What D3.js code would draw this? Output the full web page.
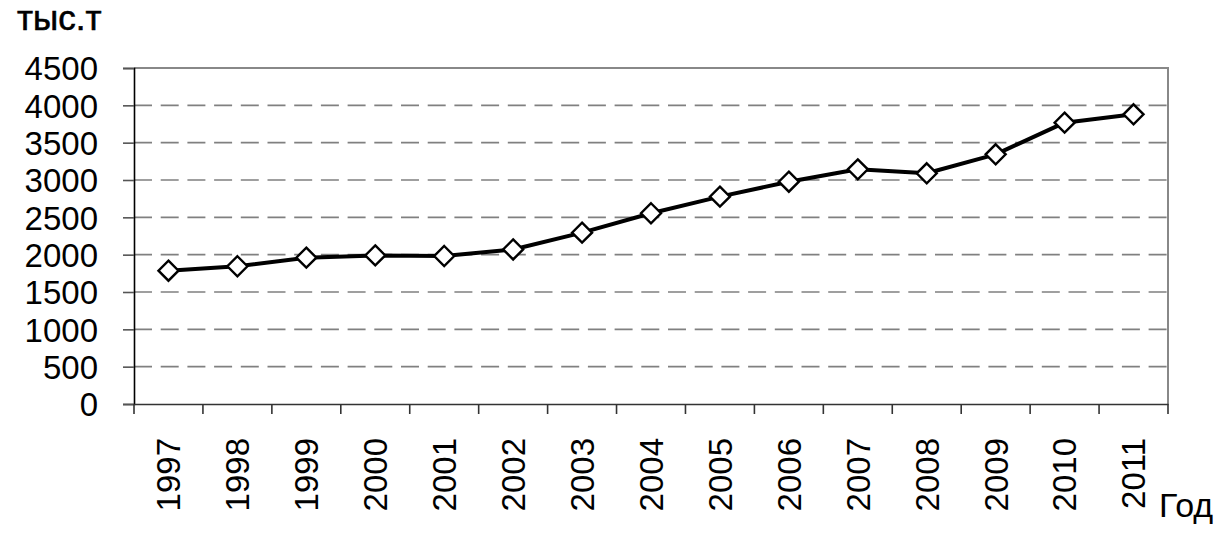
<!DOCTYPE html>
<html><head><meta charset="utf-8">
<script src="https://cdn.jsdelivr.net/npm/d3@7"></script>
<style>body{margin:0;background:#fff}svg{display:block}text{font-family:"Liberation Sans",Arial,sans-serif;fill:#000}</style>
</head><body><svg id="c" width="1229" height="534"></svg>
<script>
const years = ["1997","1998","1999","2000","2001","2002","2003","2004","2005","2006","2007","2008","2009","2010","2011"];
const values = [1785,1845,1960,1990,1982,2070,2295,2555,2777,2977,3143,3090,3344,3768,3880];
const yTicks = [0,500,1000,1500,2000,2500,3000,3500,4000,4500];
const yUnit = "тыс.т";
const xUnit = "Год";

const svg = d3.select("#c");
const L = 134, R = 1168, T = 68, B = 404;
const x = d3.scaleBand().domain(years).range([L, R]);
const y = d3.scaleLinear().domain([0, 4500]).range([B, T]);

// gridlines
svg.append("g").selectAll("line").data(yTicks.filter(d => d > 0 && d < 4500)).join("line")
  .attr("x1", L).attr("x2", R).attr("y1", d => y(d)).attr("y2", d => y(d))
  .attr("stroke", "#808080").attr("stroke-width", 1.6).attr("stroke-dasharray", "18,8.7");
// border top/right
svg.append("path").attr("d", `M${L},${y(4500)}H${R}V${B}`).attr("fill", "none")
  .attr("stroke", "#888").attr("stroke-width", 2);

// y axis
const yAxis = svg.append("g").attr("transform", `translate(${L},0)`)
  .call(d3.axisLeft(y).tickValues(yTicks).tickSize(11).tickPadding(25).tickFormat(d3.format("d")));
yAxis.select(".domain").attr("stroke", "#000").attr("stroke-width", 1.6);
yAxis.selectAll(".tick line").attr("stroke", "#555").attr("stroke-width", 1.6);
yAxis.selectAll("text").attr("font-size", 33).attr("dy", "0.36em");

// x axis
const xAxis = svg.append("g").attr("transform", `translate(0,${B})`)
  .call(d3.axisBottom(x).tickSize(0).tickSizeOuter(0));
xAxis.select(".domain").attr("stroke", "#333").attr("stroke-width", 1.6);
const bounds = years.map(d => x(d)).concat([R]);
xAxis.append("g").selectAll("line").data(bounds).join("line")
  .attr("x1", d => d).attr("x2", d => d).attr("y1", 0).attr("y2", 10)
  .attr("stroke", "#333").attr("stroke-width", 1.6);
xAxis.selectAll(".tick text").attr("font-size", 33)
  .attr("transform", "rotate(-90)").attr("text-anchor", "end")
  .attr("x", -34).attr("y", 0).attr("dy", "0.36em");

// line
const line = d3.line().x((d, i) => x(years[i]) + x.bandwidth() / 2).y(d => y(d));
svg.append("path").datum(values).attr("d", line).attr("fill", "none")
  .attr("stroke", "#000").attr("stroke-width", 4).attr("stroke-linejoin", "round");
const s = 10;
svg.append("g").selectAll("path").data(values).join("path")
  .attr("transform", (d, i) => `translate(${x(years[i]) + x.bandwidth() / 2},${y(d)})`)
  .attr("d", `M0,${-s}L${s},0L0,${s}L${-s},0Z`)
  .attr("fill", "#fff").attr("stroke", "#000").attr("stroke-width", 2.4);

svg.append("text").attr("x", 17).attr("y", 30).attr("font-size", 35).attr("stroke", "#000").attr("stroke-width", 0.6).text(yUnit);
svg.append("text").attr("x", 1159).attr("y", 517).attr("font-size", 34).text(xUnit);
</script></body></html>
